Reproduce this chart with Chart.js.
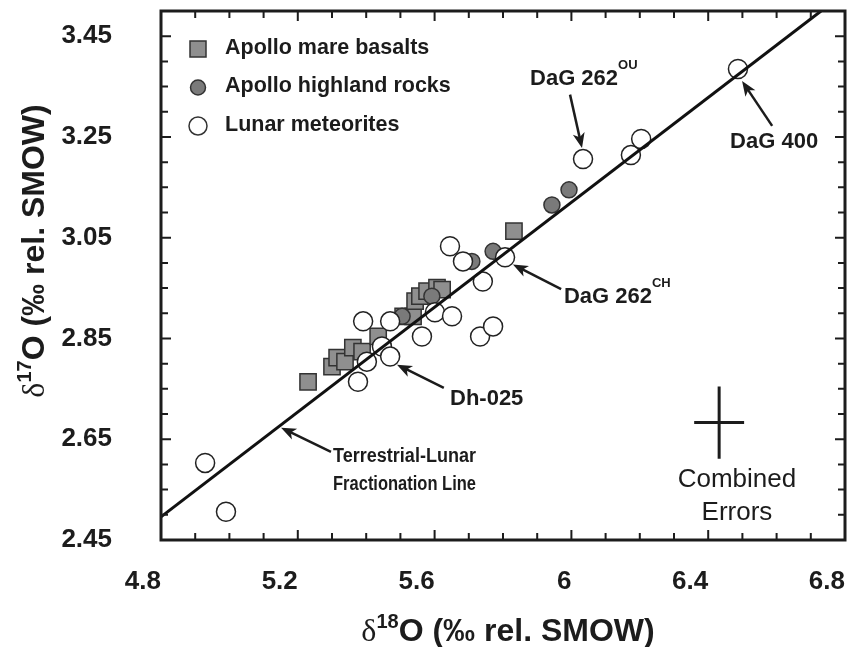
<!DOCTYPE html>
<html lang="en">
<head>
  <meta charset="UTF-8">
  <title>Lunar oxygen isotopes</title>
  <script src="https://cdn.jsdelivr.net/npm/chart.js"></script>
  <style>
    html, body { margin: 0; padding: 0; background: #fff; }
    #wrap { width: 849px; height: 647px; }
  </style>
</head>
<body>
<div id="wrap"><canvas id="oxyChart"></canvas></div>
<script>
  // Apollo mare basalts (grey squares)
  const mareX = [5.23, 5.30, 5.315, 5.338, 5.361, 5.388, 5.435, 5.508, 5.537, 5.543, 5.557, 5.578, 5.607, 5.622, 5.832];
  const mareY = [2.764, 2.794, 2.812, 2.804, 2.832, 2.824, 2.854, 2.894, 2.894, 2.924, 2.934, 2.944, 2.951, 2.947, 3.063];

  // Apollo highland rocks (grey circles)
  const highX = [5.505, 5.592, 5.709, 5.771, 5.943, 5.993];
  const highY = [2.894, 2.934, 3.003, 3.023, 3.115, 3.145];

  // Lunar meteorites (open circles)
  const metX = [4.929, 4.99, 5.376, 5.402, 5.446, 5.47, 5.391, 5.47, 5.563, 5.601, 5.651, 5.733, 5.771, 5.741, 5.645, 5.683, 5.806, 6.034, 6.174, 6.204, 6.487];
  const metY = [2.603, 2.506, 2.764, 2.804, 2.834, 2.814, 2.884, 2.884, 2.854, 2.902, 2.894, 2.854, 2.874, 2.963, 3.033, 3.003, 3.011, 3.206, 3.214, 3.246, 3.385];

  // Terrestrial-Lunar fractionation line (end points)
  const tflX = [4.8, 6.73];
  const tflY = [2.496, 3.5];

  // axis ticks
  const xTicks = [4.8, 5.2, 5.6, 6, 6.4, 6.8];
  const yTicks = [2.45, 2.65, 2.85, 3.05, 3.25, 3.45];
  const xMinor = [];
  for (let i = 0; i <= 20; i++) xMinor.push(Math.round((4.8 + i * 0.1) * 100) / 100);
  const yMinor = [];
  for (let i = 0; i <= 21; i++) yMinor.push(Math.round((2.45 + i * 0.05) * 100) / 100);

  const legendNames = ['Apollo mare basalts', 'Apollo highland rocks', 'Lunar meteorites'];

  const FONT = "'Liberation Sans', Arial, sans-serif";
  const INK = '#1c1c1c';

  const toPts = (xs, ys) => xs.map((v, i) => ({ x: v, y: ys[i] }));

  // draw text made of parts (normal / superscript)
  function drawParts(ctx, parts, x, y, align) {
    let w = 0;
    parts.forEach(p => { ctx.font = p.font; w += ctx.measureText(p.t).width; });
    let cx = align === 'center' ? x - w / 2 : x;
    parts.forEach(p => {
      ctx.font = p.font;
      ctx.fillText(p.t, cx, y + (p.dy || 0));
      cx += ctx.measureText(p.t).width;
    });
  }

  function arrow(ctx, x1, y1, x2, y2) {
    const ang = Math.atan2(y2 - y1, x2 - x1);
    const L = 15, W = 6;
    ctx.beginPath();
    ctx.moveTo(x1, y1);
    ctx.lineTo(x2 - Math.cos(ang) * 8, y2 - Math.sin(ang) * 8);
    ctx.stroke();
    ctx.save();
    ctx.translate(x2, y2);
    ctx.rotate(ang);
    ctx.beginPath();
    ctx.moveTo(0, 0);
    ctx.lineTo(-L, -W);
    ctx.lineTo(-L + 4, 0);
    ctx.lineTo(-L, W);
    ctx.closePath();
    ctx.fill();
    ctx.restore();
  }

  const decor = {
    id: 'decor',
    afterDatasetsDraw(chart) {
      const { ctx, chartArea: a, scales: { x, y } } = chart;
      const px = v => x.getPixelForValue(v);
      const py = v => y.getPixelForValue(v);
      ctx.save();
      ctx.strokeStyle = INK;
      ctx.fillStyle = INK;

      // frame
      ctx.lineWidth = 3;
      ctx.strokeRect(a.left, a.top, a.right - a.left, a.bottom - a.top);

      // inward ticks on all sides
      ctx.lineWidth = 2;
      const isMajor = (arr, v) => arr.some(t => Math.abs(t - v) < 1e-6);
      ctx.beginPath();
      xMinor.forEach(v => {
        const p = px(v), len = isMajor(xTicks, v) ? 10 : 7;
        ctx.moveTo(p, a.bottom); ctx.lineTo(p, a.bottom - len);
        ctx.moveTo(p, a.top); ctx.lineTo(p, a.top + len);
      });
      yMinor.forEach(v => {
        const p = py(v), len = isMajor(yTicks, v) ? 10 : 7;
        ctx.moveTo(a.left, p); ctx.lineTo(a.left + len, p);
        ctx.moveTo(a.right, p); ctx.lineTo(a.right - len, p);
      });
      ctx.stroke();

      // legend
      const lx = a.left + 37, ly = a.top + 38, gap = 38.5;
      ctx.lineWidth = 1.5;
      ctx.strokeStyle = '#333';
      ctx.fillStyle = '#8f8f8f';
      ctx.fillRect(lx - 8, ly - 8, 16, 16);
      ctx.strokeRect(lx - 8, ly - 8, 16, 16);
      ctx.fillStyle = '#7a7a7a';
      ctx.beginPath(); ctx.arc(lx, ly + gap, 7.5, 0, Math.PI * 2); ctx.fill(); ctx.stroke();
      ctx.fillStyle = '#fff';
      ctx.beginPath(); ctx.arc(lx, ly + 2 * gap, 9, 0, Math.PI * 2); ctx.fill(); ctx.stroke();
      ctx.fillStyle = INK;
      ctx.font = 'bold 21.5px ' + FONT;
      ctx.textBaseline = 'middle';
      ctx.textAlign = 'left';
      legendNames.forEach((n, i) => ctx.fillText(n, lx + 27, ly - 1 + i * gap));

      // annotations with arrows
      ctx.strokeStyle = INK;
      ctx.lineWidth = 2.5;
      const bold = 'bold 22px ' + FONT;
      const sup = 'bold 13px ' + FONT;
      drawParts(ctx, [{ t: 'DaG 262', font: bold }, { t: 'OU', font: sup, dy: -14 }], px(5.879), py(3.365), 'left');
      arrow(ctx, px(5.996), py(3.334), px(6.031), py(3.228));
      drawParts(ctx, [{ t: 'DaG 400', font: bold }], px(6.464), py(3.240), 'left');
      arrow(ctx, px(6.587), py(3.272), px(6.499), py(3.361));
      drawParts(ctx, [{ t: 'DaG 262', font: bold }, { t: 'CH', font: sup, dy: -14 }], px(5.978), py(2.932), 'left');
      arrow(ctx, px(5.970), py(2.948), px(5.829), py(2.997));
      drawParts(ctx, [{ t: 'Dh-025', font: bold }], px(5.645), py(2.729), 'left');
      arrow(ctx, px(5.627), py(2.752), px(5.490), py(2.798));
      ctx.font = 'bold 20px ' + FONT;
      ctx.fillText('Terrestrial-Lunar', px(5.303), py(2.615), 143);
      ctx.fillText('Fractionation Line', px(5.303), py(2.561), 143);
      arrow(ctx, px(5.297), py(2.625), px(5.151), py(2.673));

      // combined errors cross
      ctx.lineWidth = 3;
      ctx.beginPath();
      ctx.moveTo(px(6.432), py(2.683 + 0.0716)); ctx.lineTo(px(6.432), py(2.683 - 0.0716));
      ctx.moveTo(px(6.432 - 0.073), py(2.683)); ctx.lineTo(px(6.432 + 0.073), py(2.683));
      ctx.stroke();
      ctx.font = '26px ' + FONT;
      ctx.textAlign = 'center';
      ctx.fillText('Combined', px(6.484), py(2.569));
      ctx.fillText('Errors', px(6.484), py(2.504));

      // axis titles
      ctx.textBaseline = 'alphabetic';
      ctx.textAlign = 'left';
      const big = 'bold 32px ' + FONT;
      const delta = '32px "Liberation Serif", serif';
      const supT = 'bold 20px ' + FONT;
      drawParts(ctx, [{ t: 'δ', font: delta }, { t: '18', font: supT, dy: -13 }, { t: 'O (‰ rel. SMOW)', font: big }], 508, 641, 'center');
      ctx.translate(44, 251);
      ctx.rotate(-Math.PI / 2);
      drawParts(ctx, [{ t: 'δ', font: delta }, { t: '17', font: supT, dy: -13 }, { t: 'O (‰ rel. SMOW)', font: big }], 0, 0, 'center');
      ctx.restore();
    }
  };

  const tickFont = { family: FONT, size: 26, weight: 'bold' };

  new Chart(document.getElementById('oxyChart'), {
    type: 'scatter',
    data: {
      datasets: [
        {
          type: 'line',
          data: toPts(tflX, tflY),
          borderColor: '#111',
          borderWidth: 3,
          pointRadius: 0,
          fill: false
        },
        {
          data: toPts(metX, metY),
          pointStyle: 'circle',
          pointRadius: 9.5,
          backgroundColor: '#fff',
          borderColor: '#222',
          borderWidth: 1.5
        },
        {
          data: toPts(highX, highY),
          pointStyle: 'circle',
          pointRadius: 8,
          backgroundColor: '#7a7a7a',
          borderColor: '#333',
          borderWidth: 1.5
        },
        {
          data: toPts(mareX, mareY),
          pointStyle: 'rect',
          pointRadius: 11.5,
          backgroundColor: '#8f8f8f',
          borderColor: '#333',
          borderWidth: 1.5
        }
      ]
    },
    options: {
      responsive: true,
      maintainAspectRatio: false,
      animation: false,
      layout: { autoPadding: false, padding: { top: 11, right: 4, left: 0, bottom: 0 } },
      plugins: { legend: { display: false }, tooltip: { enabled: false } },
      scales: {
        x: {
          type: 'linear',
          min: 4.8,
          max: 6.8,
          grid: { display: false, drawTicks: false },
          border: { display: false },
          afterBuildTicks: s => { s.ticks = xTicks.map(v => ({ value: v })); },
          afterFit: s => { s.height = 107; s.paddingLeft = 0; s.paddingRight = 0; },
          ticks: { align: 'end', padding: 26, font: tickFont, color: INK, maxRotation: 0, callback: v => String(v) }
        },
        y: {
          type: 'linear',
          min: 2.45,
          max: 3.5,
          grid: { display: false, drawTicks: false },
          border: { display: false },
          afterBuildTicks: s => { s.ticks = yTicks.map(v => ({ value: v })); },
          afterFit: s => { s.width = 161; s.paddingTop = 0; s.paddingBottom = 0; },
          ticks: { padding: 49, font: tickFont, color: INK, callback: v => String(v) }
        }
      }
    },
    plugins: [decor]
  });
</script>
</body>
</html>
